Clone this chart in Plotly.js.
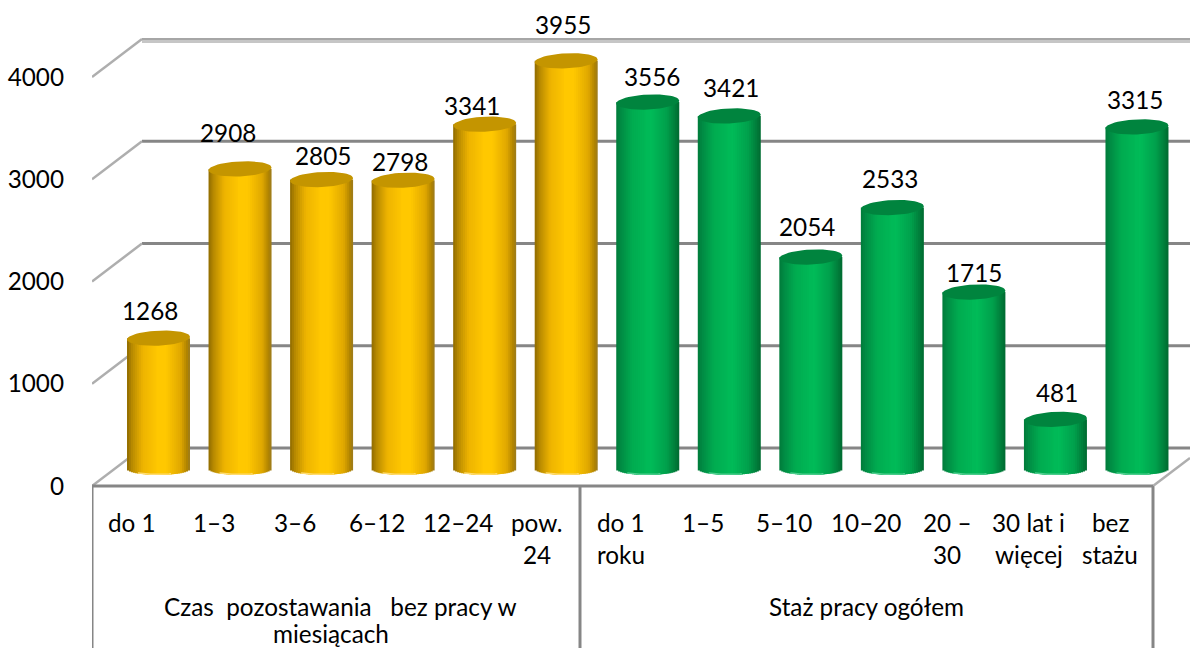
<!DOCTYPE html>
<html><head><meta charset="utf-8">
<script src="https://cdn.plot.ly/plotly-3.0.1.min.js"></script>
<style>html,body{margin:0;padding:0;background:#fff}#c{width:1190px;height:648px}</style>
</head><body><div id="c"></div>
<script>
// ---- data ----
const categories = ["do 1","1–3","3–6","6–12","12–24","pow.\n24","do 1\nroku","1–5","5–10","10–20","20 –\n30","30 lat i\nwięcej","bez\nstażu"];
const values = [1268,2908,2805,2798,3341,3955,3556,3421,2054,2533,1715,481,3315];
const groups = ["Czas  pozostawania   bez pracy w\nmiesiącach","Staż pracy ogółem"];
const yTicks = [0,1000,2000,3000,4000];
const groupSizes = [6,7];
// ---- label nudges, px (the original's labels sit irregularly) ----
const labelDx = [-9,-12,1,-3,-13,-3,4,2,-4,-2,0,2,-2];
const labelDy = [28,36,24,19,19,36,26,28,31,29,20,27,27];
const catDx = [0,0,0,0,0,-3,0,0,0,0,0,0,0];
const groupPx = [[340,331],[866]];
// ---- geometry ----
const W=1190,H=648,L=92,B=486;
const pitch=81.54, x0=158.5;
const X=p=>(p-x0)/pitch;            // px -> x units
const frontScale=0.10225, barScale=0.1032, barBase=469;
const FONT="Lato, sans-serif", FS=24.3;
const barW=63, stripN=32, capB=7.5, rimB=6;
const stopsY=[[0,'#8f6b00'],[.08,'#b88a00'],[.25,'#eeb400'],[.5,'#ffc800'],[.62,'#ffc800'],[.85,'#e0a800'],[.95,'#b08400'],[1,'#9a7a20']];
const stopsG=[[0,'#007a3a'],[.08,'#008c44'],[.25,'#00ab50'],[.55,'#00bb58'],[.8,'#00a04c'],[.95,'#007838'],[1,'#006a30']];
const hex=h=>[1,3,5].map(i=>parseInt(h.substr(i,2),16));
function ramp(st,t){for(let i=1;i<st.length;i++){if(t<=st[i][0]){const a=st[i-1],b=st[i],f=(t-a[0])/(b[0]-a[0]);
  const c=hex(a[1]),d=hex(b[1]);return `rgb(${c.map((v,j)=>Math.round(v+(d[j]-v)*f)).join(',')})`;}}return st[st.length-1][1];}
const idx=values.map((_,i)=>i);
const isFirst=i=>i<groupSizes[0];
const traces=[];
// back wall + floor, on the front-scale axis
const wallShift=38/frontScale;
const gridTrace=(xs,ys,color,w)=>({type:'scatter',mode:'lines',x:xs,y:ys,line:{color,width:w},hoverinfo:'skip',showlegend:false,cliponaxis:false,yaxis:'y',xaxis:'x'});
yTicks.forEach(v=>{
  const top=v===yTicks[yTicks.length-1];
  traces.push(gridTrace([X(142),X(1190)],[v+wallShift,v+wallShift],top?'#a6a6a6':'#868686',top?2:3));
  if(top) traces.push(gridTrace([X(142),X(1190)],[v+wallShift-2.5/frontScale,v+wallShift-2.5/frontScale],'#c6c6c6',3));
  traces.push(gridTrace([X(92),X(142)],[v,v+wallShift],'#aeaeae',2.5));
});
traces.push(gridTrace([X(1153),X(1190)],[0,28/frontScale],'#aeaeae',2.5));
// cylinder bodies as nested gradient strips, painted from each edge inward so no seams show
function strip(k,off,wid){
  const t=(k+.5)/stripN, u=t*2-1, left=k<stripN/2;
  const d=rimB*Math.sqrt(1-u*u)/barScale;
  const edge=(k+(left?0:1))/stripN*barW-barW/2;       // outer edge in px from bar centre
  return {type:'bar',x:idx,y:values.map(v=>v+d),base:idx.map(()=>-d),
    offset:(off===undefined?(left?edge:0):off)/pitch,width:(wid===undefined?Math.abs(edge):wid)/pitch,
    marker:{color:idx.map(i=>ramp(isFirst(i)?stopsY:stopsG,t)),line:{width:0}},
    hoverinfo:'skip',showlegend:false,yaxis:'y2',xaxis:'x'};
}
for(let k=0;k<stripN/2;k++) traces.push(strip(k));
for(let k=stripN-1;k>=stripN/2;k--) traces.push(strip(k));
traces.push(strip(stripN/2,-2,4));   // closes the centre join
// pale glint along the lower rim
function rimTrace(filter,color){
  const xs=[],ys=[];
  idx.filter(filter).forEach(i=>{
    for(let a=0;a<=16;a++){const u=-0.65+a/16*1.05;
      xs.push(i+u*barW/2/pitch);ys.push(-(rimB*Math.sqrt(1-u*u)-0.6)/barScale);}
    xs.push(null);ys.push(null);
  });
  return {type:'scatter',mode:'lines',x:xs,y:ys,line:{width:1.6,color},hoverinfo:'skip',showlegend:false,yaxis:'y2',xaxis:'x',cliponaxis:false};
}
traces.push(rimTrace(isFirst,'#ffdc70'));
traces.push(rimTrace(i=>!isFirst(i),'#4fcf8f'));
// top caps
function capTrace(filter,color){
  const xs=[],ys=[];
  idx.filter(filter).forEach(i=>{
    for(let a=0;a<=48;a++){const th=a/48*2*Math.PI,dx=Math.cos(th)*barW/2;
      xs.push(i+dx/pitch);ys.push(values[i]+(capB*Math.sin(th)+0.045*dx)/barScale);}
    xs.push(null);ys.push(null);
  });
  return {type:'scatter',mode:'lines',x:xs,y:ys,fill:'toself',fillcolor:color,line:{width:0,color},hoverinfo:'skip',showlegend:false,yaxis:'y2',xaxis:'x',cliponaxis:false};
}
traces.push(capTrace(isFirst,'#c49500'));
traces.push(capTrace(i=>!isFirst(i),'#00843e'));

// annotations
const ann=[];
values.forEach((v,i)=>ann.push({x:i,y:v,xref:'x',yref:'y2',text:String(v),showarrow:false,xanchor:'center',yanchor:'middle',xshift:labelDx[i],yshift:labelDy[i],font:{family:FONT,size:FS,color:'#000'}}));
const paperY=p=>(H-162-p)/(H-162);   // px -> paper
categories.forEach((c,i)=>c.split('\n').forEach((line,j)=>ann.push({x:i-0.325,xshift:catDx[i],xref:'x',y:paperY(522+j*32),yref:'paper',text:line,showarrow:false,xanchor:'center',yanchor:'middle',font:{family:FONT,size:FS,color:'#000'}})));
groups.forEach((g,i)=>g.split('\n').forEach((line,j)=>ann.push({x:X(groupPx[i][j]),xref:'x',y:paperY(606+j*27),yref:'paper',text:line.replace(/ /g,'\u00a0'),showarrow:false,xanchor:'center',yanchor:'middle',font:{family:FONT,size:FS,color:'#000'}})));

const frame={type:'line',line:{color:'#868686',width:3},layer:'above'};
const shapes=[
 {...frame,xref:'x',yref:'paper',x0:X(92),x1:X(1153),y0:0,y1:0},
 ...[92,580,1153].map(px=>({...frame,xref:'x',yref:'paper',x0:X(px),x1:X(px),y0:0,y1:paperY(648)}))
];
const layout={width:W,height:H,margin:{l:L,r:0,t:0,b:H-B,pad:0},paper_bgcolor:'#fff',plot_bgcolor:'rgba(0,0,0,0)',
  showlegend:false,barmode:'overlay',annotations:ann,shapes,
  xaxis:{range:[X(92),X(1190)],showgrid:false,zeroline:false,showline:false,showticklabels:false,ticks:'',fixedrange:true},
  yaxis:{range:[0,B/frontScale],tickmode:'array',tickvals:yTicks,ticktext:yTicks.map(String),showgrid:false,zeroline:false,showline:false,ticks:'',ticklabelstandoff:27,tickfont:{family:FONT,size:FS,color:'#000'},fixedrange:true},
  yaxis2:{range:[(barBase-B)/barScale,barBase/barScale],overlaying:'y',showgrid:false,zeroline:false,showline:false,showticklabels:false,ticks:'',fixedrange:true}
};
Plotly.newPlot('c',traces,layout,{displayModeBar:false,staticPlot:true});
</script></body></html>
